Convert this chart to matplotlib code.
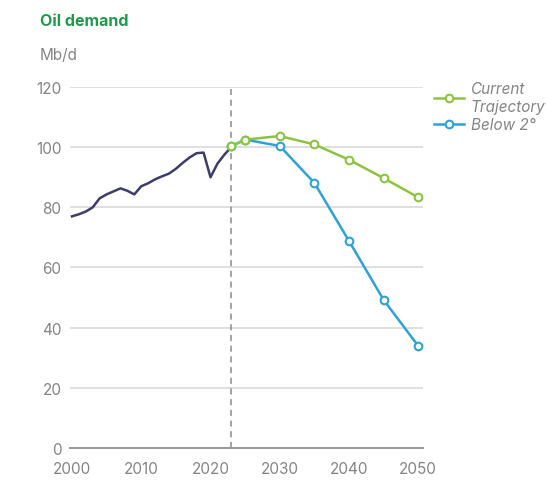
import matplotlib
matplotlib.use('Agg')
import matplotlib.pyplot as plt

# historical demand (Mb/d)
hist_years = list(range(2000, 2024))
hist_vals = [77.0, 77.7, 78.6, 80.0, 83.0, 84.3, 85.3, 86.3, 85.5, 84.3,
             87.0, 88.0, 89.3, 90.3, 91.2, 92.8, 94.8, 96.6, 98.0, 98.2,
             90.0, 94.5, 97.5, 100.0]

# scenarios
scen_years = [2023, 2025, 2030, 2035, 2040, 2045, 2050]
current_traj = [100.3, 102.5, 103.7, 100.9, 95.8, 89.7, 83.3]
below_2 = [100.3, 102.5, 100.4, 88.1, 68.8, 49.2, 33.9]

x_ticks = [2000, 2010, 2020, 2030, 2040, 2050]
y_ticks = [0, 20, 40, 60, 80, 100, 120]

GREEN = '#8cc43f'
BLUE = '#2ea3d3'
NAVY = '#3e3d6a'
GRAY = '#858585'

plt.rcParams['font.family'] = ['Inter', 'DejaVu Sans']

fig = plt.figure(figsize=(5.46, 4.85), dpi=100)
ax = fig.add_axes([0.128, 0.0742, 0.647, 0.7444])

for y in y_ticks[1:]:
    ax.axhline(y, color='#d9d9d9', lw=1.2, zorder=0)

ax.axvline(2023, color='#8a8a8a', lw=1.1, ls=(0, (4, 3)), zorder=1)

ax.plot(hist_years, hist_vals, color=NAVY, lw=1.8, zorder=2)
ax.plot(scen_years, below_2, color=BLUE, lw=1.8, marker='o', ms=5.5,
        mfc='white', mec=BLUE, mew=1.5, zorder=3, clip_on=False, label='Below 2°')
ax.plot(scen_years, current_traj, color=GREEN, lw=1.8, marker='o', ms=5.5,
        mfc='white', mec=GREEN, mew=1.5, zorder=4, clip_on=False,
        label='Current\nTrajectory')

ax.set_xlim(1999.7, 2050.7)
ax.set_ylim(0, 120)
ax.set_xticks(x_ticks)
ax.set_yticks(y_ticks)

for s in ['top', 'right', 'left']:
    ax.spines[s].set_visible(False)
ax.spines['bottom'].set_color('#9a9a9a')
ax.spines['bottom'].set_linewidth(1.5)
ax.tick_params(axis='both', length=0, labelsize=11, labelcolor=GRAY)
ax.tick_params(axis='x', pad=9)
ax.tick_params(axis='y', pad=6)

handles, labels = ax.get_legend_handles_labels()
leg = ax.legend(handles[::-1], labels[::-1], loc='upper left',
                bbox_to_anchor=(1.0, 1.045), frameon=False,
                prop={'style': 'italic', 'size': 11},
                handlelength=2.0, handletextpad=0.4, labelspacing=0.2,
                borderaxespad=0.3)
for t in leg.get_texts():
    t.set_color(GRAY)

fig.text(0.073, 0.955, 'Oil demand', color='#1e9a4c', fontsize=11.5,
         fontweight='bold', va='center')
fig.text(0.073, 0.886, 'Mb/d', color=GRAY, fontsize=11, va='center')

fig.savefig('out.png', dpi=100)
